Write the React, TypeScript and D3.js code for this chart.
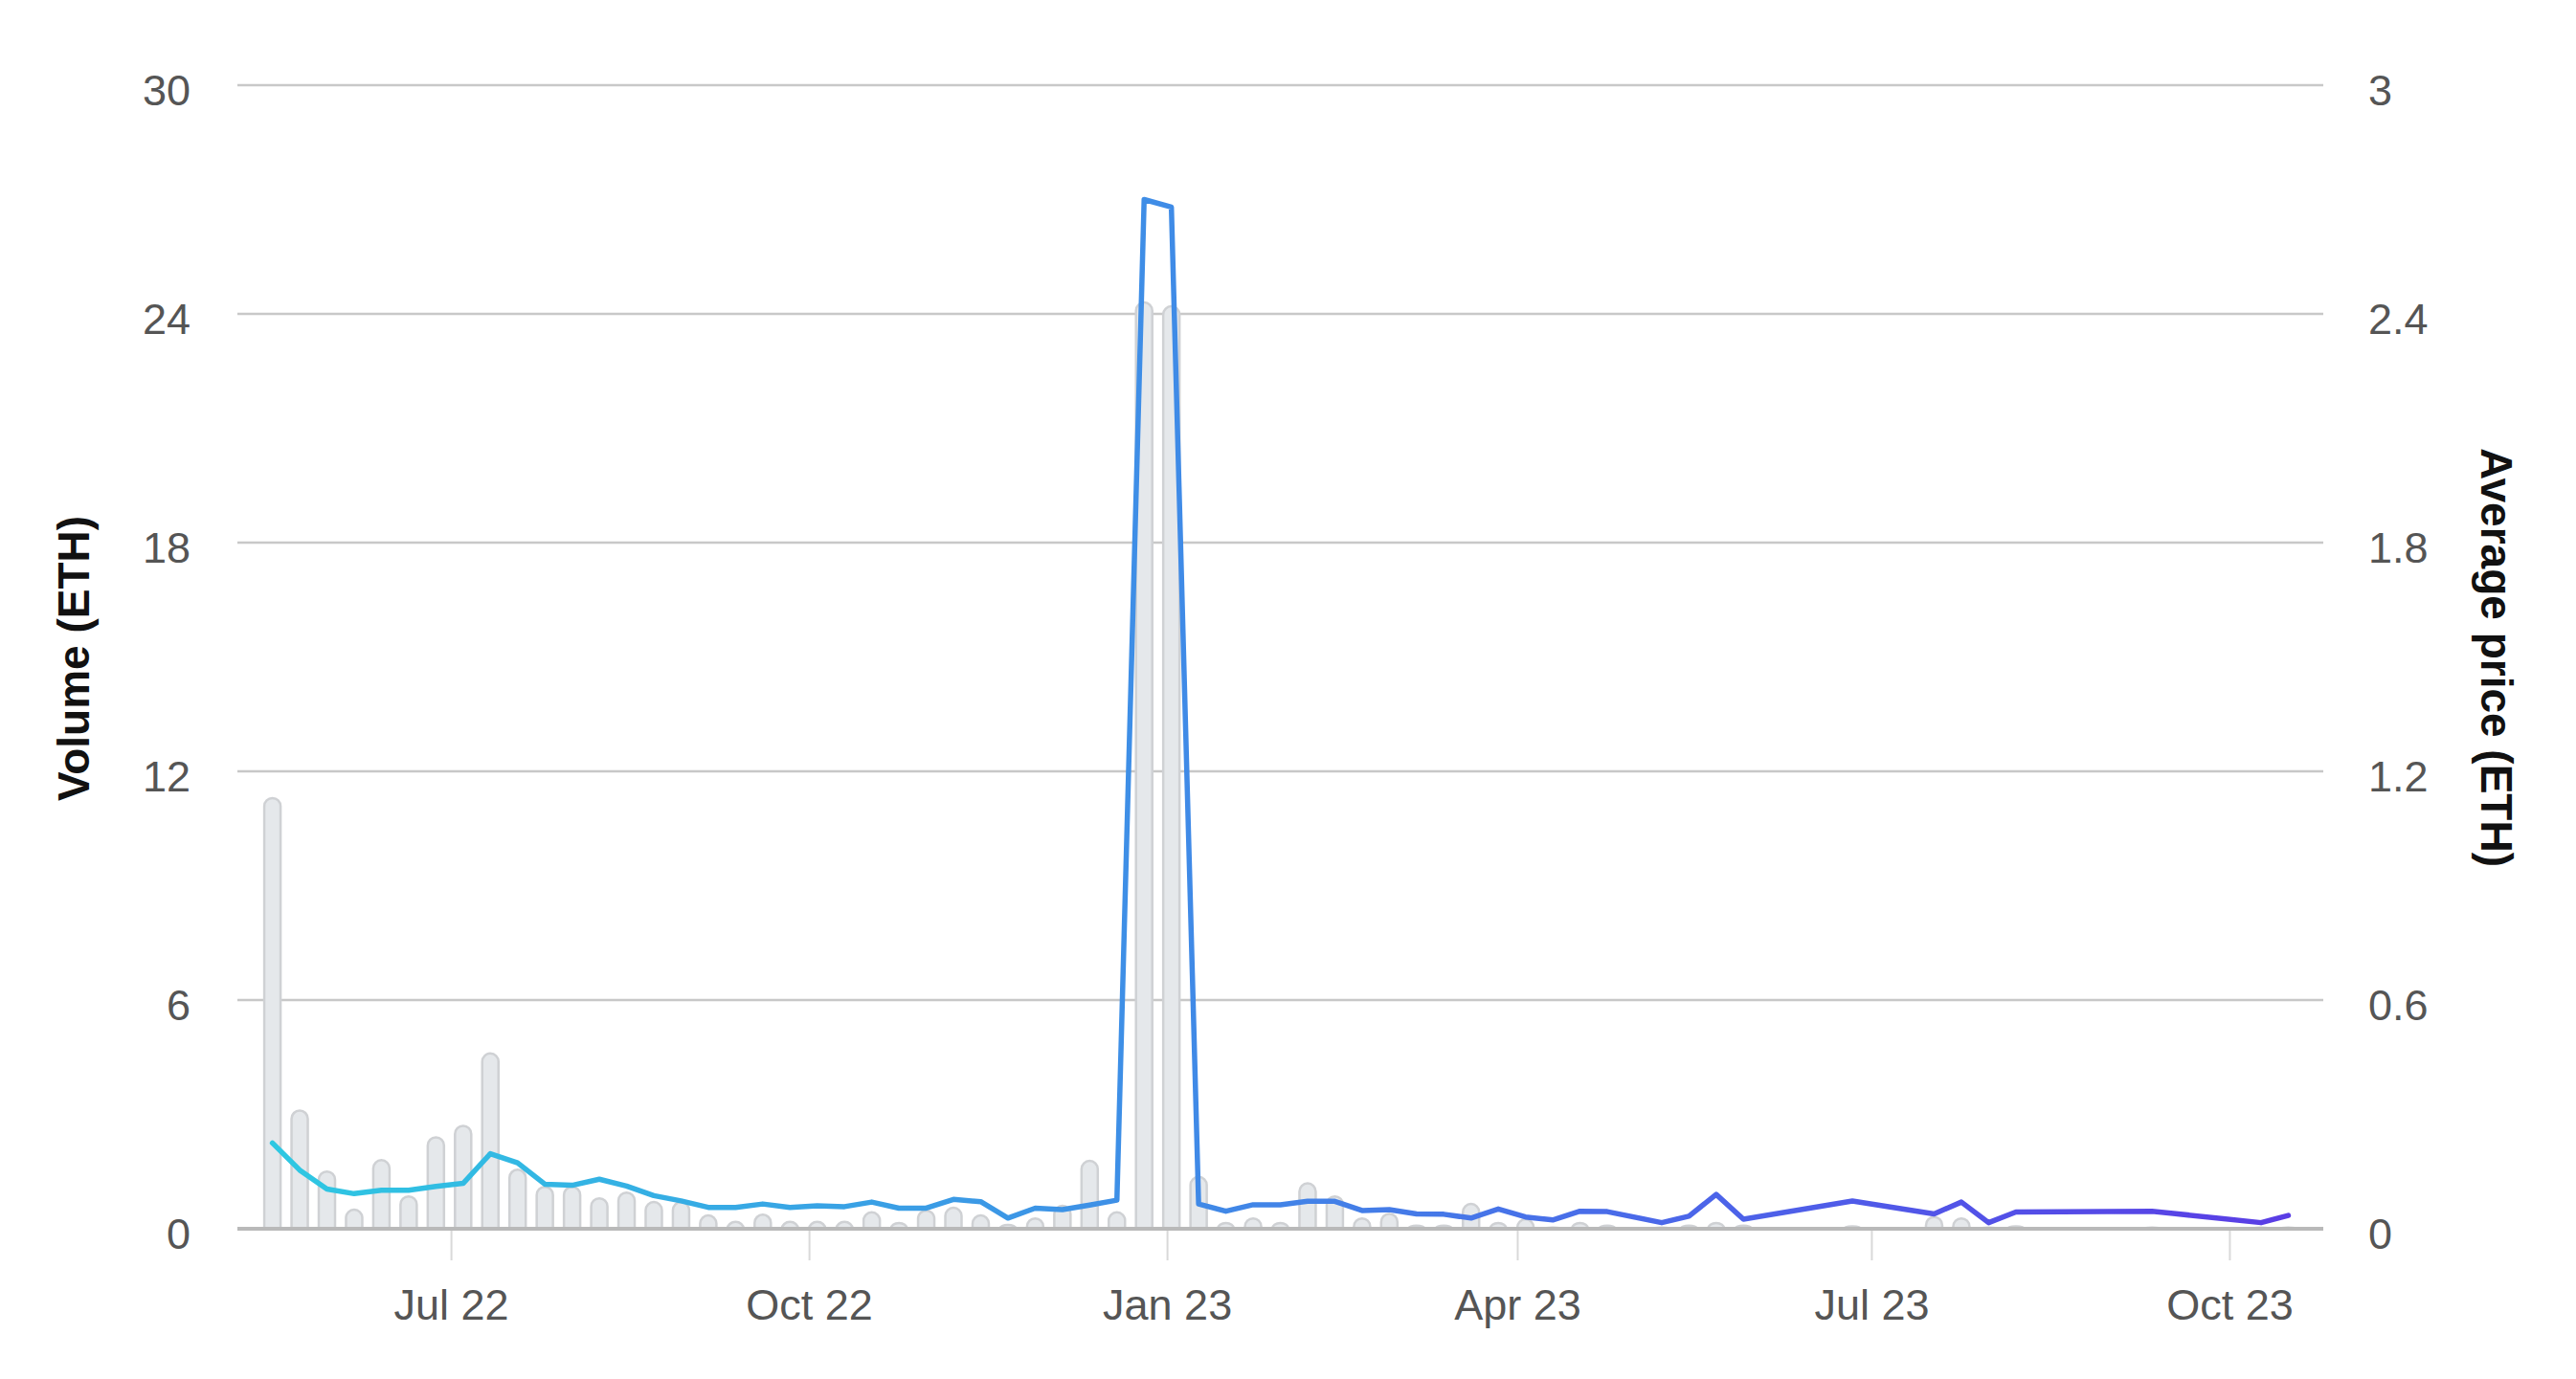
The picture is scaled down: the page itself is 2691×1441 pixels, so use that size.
import * as d3 from "d3";

// weekly buckets (week start, Monday)
const weeks = [
  "2022-05-16", "2022-05-23", "2022-05-30", "2022-06-06", "2022-06-13", "2022-06-20",
  "2022-06-27", "2022-07-04", "2022-07-11", "2022-07-18", "2022-07-25", "2022-08-01",
  "2022-08-08", "2022-08-15", "2022-08-22", "2022-08-29", "2022-09-05", "2022-09-12",
  "2022-09-19", "2022-09-26", "2022-10-03", "2022-10-10", "2022-10-17", "2022-10-24",
  "2022-10-31", "2022-11-07", "2022-11-14", "2022-11-21", "2022-11-28", "2022-12-05",
  "2022-12-12", "2022-12-19", "2022-12-26", "2023-01-02", "2023-01-09", "2023-01-16",
  "2023-01-23", "2023-01-30", "2023-02-06", "2023-02-13", "2023-02-20", "2023-02-27",
  "2023-03-06", "2023-03-13", "2023-03-20", "2023-03-27", "2023-04-03", "2023-04-10",
  "2023-04-17", "2023-04-24", "2023-05-08", "2023-05-15", "2023-05-22", "2023-05-29",
  "2023-06-26", "2023-07-17", "2023-07-24", "2023-07-31", "2023-08-07", "2023-09-11",
  "2023-10-09", "2023-10-16",
];

const volume = [
  11.3, 3.1, 1.5, 0.5, 1.8, 0.85,
  2.4, 2.7, 4.6, 1.55, 1.1, 1.1,
  0.8, 0.95, 0.7, 0.7, 0.35, 0.18,
  0.37, 0.18, 0.18, 0.18, 0.43, 0.15,
  0.48, 0.55, 0.35, 0.1, 0.27, 0.6,
  1.78, 0.43, 24.3, 24.2, 1.36, 0.15,
  0.27, 0.15, 1.19, 0.85, 0.27, 0.39,
  0.08, 0.08, 0.65, 0.15, 0.25, 0.03,
  0.15, 0.08, 0.03, 0.08, 0.15, 0.08,
  0.06, 0.31, 0.27, 0.03, 0.06, 0.03,
  0.03, 0.03,
];

const avgPrice = [
  0.225, 0.154, 0.104, 0.092, 0.101, 0.101,
  0.111, 0.119, 0.197, 0.173, 0.117, 0.114,
  0.13, 0.112, 0.087, 0.073, 0.056, 0.056,
  0.065, 0.056, 0.06, 0.058, 0.07, 0.054,
  0.054, 0.077, 0.071, 0.028, 0.054, 0.05,
  0.062, 0.075, 2.7, 2.68, 0.065, 0.046,
  0.063, 0.063, 0.072, 0.072, 0.048, 0.05,
  0.039, 0.038, 0.028, 0.052, 0.031, 0.023,
  0.046, 0.045, 0.016, 0.033, 0.09, 0.025,
  0.073, 0.039, 0.07, 0.016, 0.044, 0.046,
  0.016, 0.035,
];

const volumeTicks = [0, 6, 12, 18, 24, 30];
const priceTicks = [0, 0.6, 1.2, 1.8, 2.4, 3];
const dateTicks = ["2022-07-01", "2022-10-01", "2023-01-01", "2023-04-01", "2023-07-01", "2023-10-01"];

const parse = d3.utcParse("%Y-%m-%d");
const fmt = d3.utcFormat("%b %y");
const font = "'Liberation Sans', Arial, sans-serif";

export default function App() {
  const width = 2691;
  const height = 1441;
  const marginLeft = 248;
  const marginRight = 264;
  const marginTop = 89;
  const marginBottom = 157;
  const barWidth = 17;

  const data = weeks.map((w, i) => ({ date: parse(w), vol: volume[i], price: avgPrice[i] }));

  const x = d3.scaleUtc()
    .domain([parse("2022-05-07"), parse("2023-10-25")])
    .range([marginLeft, width - marginRight]);

  const yVol = d3.scaleLinear().domain([0, 30]).range([height - marginBottom, marginTop]);
  const yPrice = d3.scaleLinear().domain([0, 3]).range([height - marginBottom, marginTop]);

  const y0 = yVol(0);

  const line = d3.line()
    .x(d => x(d.date))
    .y(d => yPrice(d.price));

  // bar with a rounded top
  const barPath = d => {
    const cx = x(d.date);
    const l = cx - barWidth / 2;
    const r = cx + barWidth / 2;
    const top = yVol(d.vol);
    const h = y0 - top;
    const rx = barWidth / 2;
    const ry = Math.min(rx, h);
    return `M${l},${y0}V${top + ry}A${rx},${ry} 0 0 1 ${r},${top + ry}V${y0}Z`;
  };

  const x1 = x(data[0].date);
  const x2 = x(data[data.length - 1].date);

  return (
    <svg width={width} height={height} style={{ position: "absolute", left: 0, top: 0, background: "#fff" }} fontFamily={font}>
      <defs>
        <linearGradient id="priceGrad" gradientUnits="userSpaceOnUse" x1={x1} x2={x2} y1={0} y2={0}>
          <stop offset="0" stopColor="#2ec8e2" />
          <stop offset="0.4" stopColor="#3d92e6" />
          <stop offset="0.7" stopColor="#4b66e9" />
          <stop offset="1" stopColor="#5a3de5" />
        </linearGradient>
      </defs>

      {/* grid */}
      <g stroke="#c8c8c8" strokeWidth={2.5}>
        {volumeTicks.filter(t => t > 0).map(t => (
          <line key={t} x1={marginLeft} x2={width - marginRight} y1={yVol(t)} y2={yVol(t)} />
        ))}
      </g>

      {/* x ticks */}
      <g>
        {dateTicks.map(t => {
          const d = parse(t);
          return (
            <g key={t} transform={`translate(${x(d)},0)`}>
              <line y1={y0} y2={y0 + 33} stroke="#d9d9d9" strokeWidth={2} />
              <text y={y0 + 95} textAnchor="middle" fontSize={45} fill="#555">{fmt(d)}</text>
            </g>
          );
        })}
      </g>

      {/* bars */}
      <g fill="#e5e8eb" stroke="#cfd1d4" strokeWidth={2.5}>
        {data.map((d, i) => (
          <path key={i} d={barPath(d)} />
        ))}
      </g>

      <line x1={marginLeft} x2={width - marginRight} y1={y0} y2={y0} stroke="#b9b9b9" strokeWidth={4} />

      {/* average price */}
      <path d={line(data)} fill="none" stroke="url(#priceGrad)" strokeWidth={5.5} strokeLinejoin="round" strokeLinecap="round" />

      {/* left axis */}
      <g fontSize={45} fill="#555" textAnchor="end">
        {volumeTicks.map(t => (
          <text key={t} x={199} y={yVol(t) + 5} dy="0.35em">{t}</text>
        ))}
      </g>
      {/* right axis */}
      <g fontSize={45} fill="#555" textAnchor="start">
        {priceTicks.map(t => (
          <text key={t} x={2474} y={yPrice(t) + 5} dy="0.35em">{d3.format("~g")(t)}</text>
        ))}
      </g>

      <text transform={`translate(77,${688}) rotate(-90)`} textAnchor="middle" dy="0.35em" fontSize={46} fontWeight="bold" fill="#111">Volume (ETH)</text>
      <text transform={`translate(2608,${687}) rotate(90)`} textAnchor="middle" dy="0.35em" fontSize={46} fontWeight="bold" fill="#111">Average price (ETH)</text>
    </svg>
  );
}
